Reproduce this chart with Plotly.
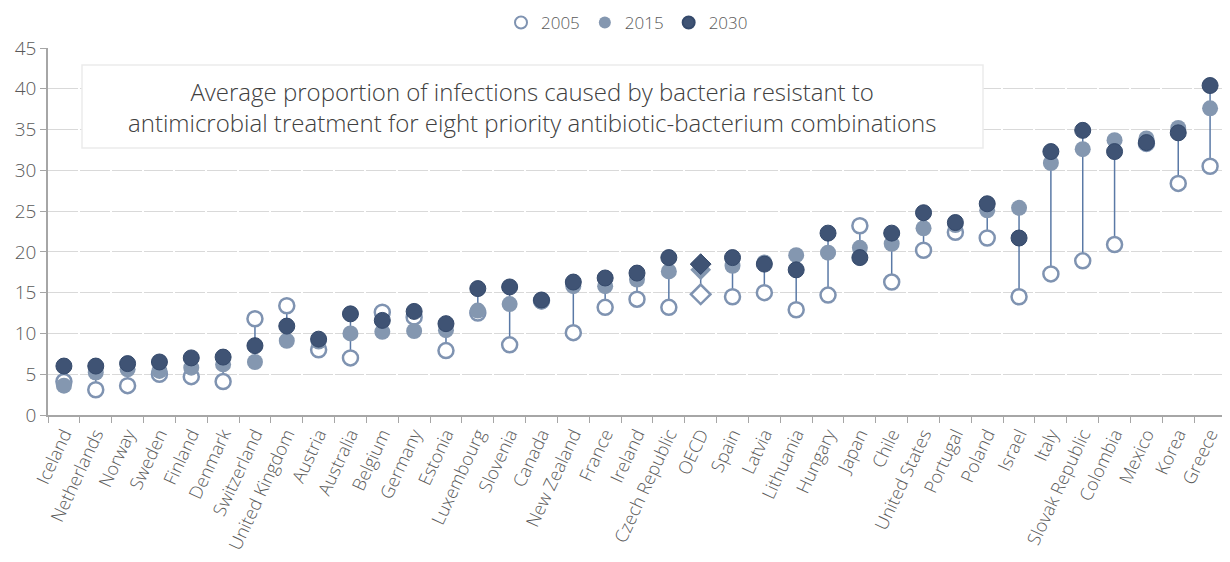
import plotly.graph_objects as go

countries = ["Iceland", "Netherlands", "Norway", "Sweden", "Finland", "Denmark", "Switzerland",
             "United Kingdom", "Austria", "Australia", "Belgium", "Germany", "Estonia", "Luxembourg",
             "Slovenia", "Canada", "New Zealand", "France", "Ireland", "Czech Republic", "OECD",
             "Spain", "Latvia", "Lithuania", "Hungary", "Japan", "Chile", "United States", "Portugal",
             "Poland", "Israel", "Italy", "Slovak Republic", "Colombia", "Mexico", "Korea", "Greece"]
v2005 = [4.1, 3.1, 3.6, 5.0, 4.7, 4.1, 11.8, 13.4, 8.0, 7.0, 12.6, 12.0, 7.9, 12.5,
         8.6, 14.0, 10.1, 13.2, 14.2, 13.2, 14.8, 14.5, 15.0, 12.9, 14.7, 23.2, 16.3, 20.2, 22.4,
         21.7, 14.5, 17.3, 18.9, 20.9, 33.3, 28.4, 30.5]
v2015 = [3.6, 5.2, 5.6, 5.4, 5.8, 6.2, 6.5, 9.1, 9.0, 10.0, 10.2, 10.3, 10.4, 12.8,
         13.6, 13.9, 15.8, 15.8, 16.6, 17.6, 17.8, 18.3, 18.7, 19.6, 19.9, 20.5, 21.0, 22.9, 23.3,
         25.1, 25.4, 30.9, 32.6, 33.7, 33.9, 35.2, 37.6]
v2030 = [6.0, 6.0, 6.3, 6.5, 7.0, 7.1, 8.5, 10.9, 9.3, 12.4, 11.6, 12.7, 11.2, 15.5,
         15.7, 14.1, 16.3, 16.8, 17.4, 19.3, 18.5, 19.3, 18.5, 17.8, 22.3, 19.3, 22.3, 24.8, 23.6,
         25.9, 21.7, 32.3, 34.9, 32.3, 33.4, 34.6, 40.4]
y_ticks = [0, 5, 10, 15, 20, 25, 30, 35, 40, 45]
title_text = ("Average proportion of infections caused by bacteria resistant to<br>"
              "antimicrobial treatment for eight priority antibiotic-bacterium combinations")

FONT = "Open Sans"
C2005 = "#7f93b1"
C2015 = "#8497b0"
C2030 = "#3f5374"
CLINE = "#5a79a6"

fill_sym = ["diamond" if c == "OECD" else "circle" for c in countries]

# connector lines from min to max
lx, ly = [], []
for c, a, b, d in zip(countries, v2005, v2015, v2030):
    vals = [a, b, d]
    lx += [c, c, None]
    ly += [min(vals), max(vals), None]

fig = go.Figure()
fig.add_trace(go.Scatter(x=lx, y=ly, mode="lines", line=dict(color=CLINE, width=1.5),
                         showlegend=False, hoverinfo="skip"))
fig.add_trace(go.Scatter(x=countries, y=v2005, mode="markers", name="2005",
                         marker=dict(symbol=fill_sym, size=15, color="white",
                                     line=dict(color=C2005, width=2.5))))
fig.add_trace(go.Scatter(x=countries, y=v2015, mode="markers", name="2015",
                         marker=dict(symbol=fill_sym, size=16, color=C2015,
                                     line=dict(color=C2015, width=0))))
fig.add_trace(go.Scatter(x=countries, y=v2030, mode="markers", name="2030",
                         marker=dict(symbol=fill_sym, size=16, color=C2030,
                                     line=dict(color="#34496b", width=1))))

pw = 1178.0
ph = 367.0
cat_w = pw / len(countries)

fig.update_layout(
    width=1230, height=562,
    margin=dict(l=40, r=12, t=40, b=155, autoexpand=False),
    paper_bgcolor="white", plot_bgcolor="white",
    font=dict(family=FONT, color="#595959", size=17, weight=300),
    legend=dict(orientation="h", x=(627 - 48) / pw, xanchor="center",
                y=1 + 25 / ph, yanchor="middle",
                font=dict(size=17, color="#595959", weight=300), itemsizing="constant",
                itemwidth=30, tracegroupgap=0, borderwidth=0,
                bgcolor="rgba(0,0,0,0)"),
    xaxis=dict(type="category", categoryorder="array", categoryarray=countries,
               tickangle=-65, tickson="boundaries", ticks="outside", ticklen=6,
               tickcolor="#a6a6a6", showline=True, linecolor="#a6a6a6", linewidth=1.5,
               showgrid=False, automargin=False,
               tickfont=dict(size=18, color="#595959", weight=300),
               range=[-0.5, len(countries) - 0.5]),
    yaxis=dict(range=[0, 45], tickvals=y_ticks, ticks="outside", ticklen=6,
               tickcolor="#a6a6a6", showline=True, linecolor="#a6a6a6", linewidth=1.5,
               showgrid=True, gridcolor="#d9d9d9", gridwidth=1.2,
               griddash="%.2fpx,2px" % (cat_w - 2), zeroline=False, automargin=False,
               tickfont=dict(size=19, color="#595959", weight=300)),
    shapes=[dict(type="rect", xref="paper", yref="paper",
                 x0=(82 - 48) / pw, x1=(983 - 48) / pw,
                 y0=(415 - 148) / ph, y1=(415 - 65) / ph,
                 fillcolor="white", line=dict(color="#ebebeb", width=1.5), layer="above")],
    annotations=[dict(text=title_text, xref="paper", yref="paper",
                      x=(532 - 48) / pw, y=(415 - 107) / ph, xanchor="center", yanchor="middle",
                      showarrow=False, align="center",
                      font=dict(family=FONT, size=24, color="#404040", weight=300))],
)

fig.write_html("out.html")
